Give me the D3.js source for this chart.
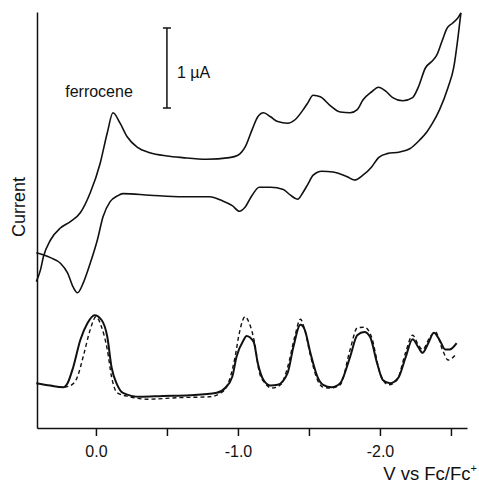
<!DOCTYPE html>
<html>
<head>
<meta charset="utf-8">
<script src="https://cdn.jsdelivr.net/npm/d3@7"></script>
<style>
  body { margin: 0; background: #fff; }
  svg { display: block; font-family: "Liberation Sans", Arial, Helvetica, sans-serif; }
</style>
</head>
<body>
<div id="chart"></div>
<script>
// potential in V vs Fc/Fc+, current in µA (offset arbitrary)
const cvForward = [
  [0.42, 1.83], [0.39, 1.98], [0.37, 2.14], [0.32, 2.35], [0.25, 2.50], [0.18, 2.58],
  [0.11, 2.69], [0.04, 2.94], [-0.03, 3.31], [-0.08, 3.69], [-0.12, 3.94], [-0.17, 3.81],
  [-0.22, 3.64], [-0.29, 3.51], [-0.38, 3.44], [-0.50, 3.40], [-0.61, 3.38], [-0.78, 3.36],
  [-0.94, 3.38], [-1.00, 3.41], [-1.05, 3.51], [-1.10, 3.73], [-1.14, 3.89], [-1.18, 3.94],
  [-1.23, 3.89], [-1.28, 3.83], [-1.35, 3.81], [-1.40, 3.85], [-1.46, 3.98], [-1.49, 4.06],
  [-1.53, 4.16], [-1.58, 4.14], [-1.65, 4.03], [-1.72, 3.95], [-1.79, 3.94], [-1.84, 3.98],
  [-1.88, 4.10], [-1.94, 4.20], [-1.99, 4.26], [-2.04, 4.21], [-2.09, 4.13], [-2.16, 4.09],
  [-2.23, 4.13], [-2.27, 4.26], [-2.32, 4.50], [-2.37, 4.59], [-2.40, 4.66], [-2.44, 4.85],
  [-2.47, 4.99], [-2.51, 5.06], [-2.55, 5.13], [-2.57, 5.19]
];

const cvReverse = [
  [-2.57, 5.19], [-2.55, 4.89], [-2.52, 4.51], [-2.48, 4.26], [-2.42, 3.98], [-2.37, 3.81],
  [-2.33, 3.70], [-2.28, 3.60], [-2.21, 3.49], [-2.14, 3.45], [-2.05, 3.43], [-1.99, 3.38],
  [-1.94, 3.26], [-1.88, 3.16], [-1.82, 3.10], [-1.77, 3.14], [-1.67, 3.20], [-1.59, 3.21],
  [-1.53, 3.16], [-1.49, 3.04], [-1.46, 2.95], [-1.42, 2.86], [-1.37, 2.91], [-1.32, 2.98],
  [-1.23, 3.01], [-1.15, 3.01], [-1.10, 2.91], [-1.05, 2.76], [-1.01, 2.71], [-0.96, 2.78],
  [-0.89, 2.84], [-0.80, 2.89], [-0.61, 2.89], [-0.38, 2.91], [-0.19, 2.93], [-0.15, 2.90],
  [-0.10, 2.83], [-0.05, 2.64], [-0.01, 2.35], [0.04, 2.06], [0.09, 1.81], [0.13, 1.69],
  [0.16, 1.76], [0.20, 1.94], [0.25, 2.06], [0.32, 2.13], [0.42, 2.19]
];

const dpvSolid = [
  [0.42, 0.56], [0.32, 0.53], [0.23, 0.51], [0.20, 0.56], [0.16, 0.76], [0.11, 1.10],
  [0.06, 1.31], [0.01, 1.41], [-0.04, 1.35], [-0.08, 1.14], [-0.11, 0.76], [-0.15, 0.54],
  [-0.19, 0.44], [-0.31, 0.39], [-0.47, 0.40], [-0.66, 0.41], [-0.85, 0.44], [-0.91, 0.50],
  [-0.96, 0.64], [-0.99, 0.89], [-1.04, 1.10], [-1.06, 1.15], [-1.11, 1.08], [-1.14, 0.81],
  [-1.18, 0.60], [-1.23, 0.53], [-1.28, 0.54], [-1.35, 0.69], [-1.39, 1.01], [-1.44, 1.29],
  [-1.47, 1.23], [-1.51, 0.94], [-1.56, 0.64], [-1.60, 0.54], [-1.66, 0.51], [-1.72, 0.56],
  [-1.79, 0.89], [-1.84, 1.16], [-1.89, 1.20], [-1.93, 1.14], [-1.98, 0.81], [-2.02, 0.60],
  [-2.07, 0.56], [-2.13, 0.63], [-2.18, 0.88], [-2.23, 1.11], [-2.27, 1.01], [-2.30, 0.94],
  [-2.34, 1.06], [-2.38, 1.19], [-2.42, 1.10], [-2.46, 0.98], [-2.49, 0.98], [-2.54, 1.06]
];

const dpvDashed = [
  [0.32, 0.53], [0.23, 0.51], [0.18, 0.53], [0.13, 0.64], [0.09, 0.89], [0.04, 1.23],
  [0.00, 1.39], [-0.04, 1.26], [-0.08, 0.98], [-0.11, 0.64], [-0.15, 0.44], [-0.24, 0.39],
  [-0.36, 0.36], [-0.59, 0.38], [-0.80, 0.39], [-0.89, 0.45], [-0.94, 0.60], [-0.98, 0.89],
  [-1.01, 1.19], [-1.05, 1.39], [-1.08, 1.31], [-1.12, 1.04], [-1.15, 0.70], [-1.19, 0.56],
  [-1.24, 0.50], [-1.30, 0.54], [-1.35, 0.76], [-1.40, 1.14], [-1.44, 1.36], [-1.47, 1.23],
  [-1.51, 0.91], [-1.56, 0.60], [-1.60, 0.51], [-1.65, 0.50], [-1.72, 0.54], [-1.79, 0.98],
  [-1.84, 1.25], [-1.89, 1.26], [-1.94, 1.14], [-2.00, 0.69], [-2.06, 0.54], [-2.12, 0.60],
  [-2.18, 0.94], [-2.23, 1.16], [-2.27, 1.04], [-2.30, 0.98], [-2.35, 1.13], [-2.39, 1.20],
  [-2.44, 0.98], [-2.48, 0.85], [-2.53, 0.91]
];

const tickValues = [0, -0.5, -1.0, -1.5, -2.0, -2.5];
const labelledTicks = [0, -1.0, -2.0];

const width = 479;
const height = 485;
const margin = { top: 12, right: 12, bottom: 57, left: 37 };

const svg = d3.select("#chart")
  .append("svg")
  .attr("width", width)
  .attr("height", height);

// x runs from +0.415 V on the left to -2.613 V on the right
const x = d3.scaleLinear()
  .domain([0.415, -2.613])
  .range([margin.left, width - margin.right]);

const y = d3.scaleLinear()
  .domain([0, 5.2])
  .range([height - margin.bottom, margin.top]);

// axes
const xAxis = svg.append("g")
  .attr("transform", `translate(0,${height - margin.bottom})`)
  .call(d3.axisBottom(x)
    .tickValues(tickValues)
    .tickSize(8)
    .tickSizeOuter(0)
    .tickPadding(10)
    .tickFormat((d) => (labelledTicks.includes(d) ? d.toFixed(1) : "")));

xAxis.selectAll("path, line").attr("stroke", "#111").attr("stroke-width", 1.5);
xAxis.selectAll("text")
  .attr("font-size", 16)
  .attr("font-family", "Liberation Sans, Arial, sans-serif")
  .attr("fill", "#111");

const yAxis = svg.append("g")
  .attr("transform", `translate(${margin.left},0)`)
  .call(d3.axisLeft(y).tickValues([]).tickSizeOuter(0));

yAxis.selectAll("path").attr("stroke", "#111").attr("stroke-width", 1.5);

// curves: monotone in x keeps the peaks round without overshoot
const line = d3.line()
  .x((d) => x(d[0]))
  .y((d) => y(d[1]))
  .curve(d3.curveMonotoneX);

const byX = (arr) => arr.slice().sort((a, b) => b[0] - a[0]);

svg.append("path")
  .datum(byX(cvForward))
  .attr("fill", "none")
  .attr("stroke", "#111")
  .attr("stroke-width", 1.6)
  .attr("d", line);

svg.append("path")
  .datum(byX(cvReverse))
  .attr("fill", "none")
  .attr("stroke", "#111")
  .attr("stroke-width", 1.6)
  .attr("d", line);

svg.append("path")
  .datum(byX(dpvDashed))
  .attr("fill", "none")
  .attr("stroke", "#111")
  .attr("stroke-width", 1.4)
  .attr("stroke-dasharray", "4,3")
  .attr("d", line);

svg.append("path")
  .datum(byX(dpvSolid))
  .attr("fill", "none")
  .attr("stroke", "#111")
  .attr("stroke-width", 2)
  .attr("d", line);

// 1 µA scale bar
const barX = x(-0.5);
const bar = svg.append("g").attr("stroke", "#111").attr("stroke-width", 1.5);
bar.append("line").attr("x1", barX).attr("x2", barX).attr("y1", y(4)).attr("y2", y(5));
bar.append("line").attr("x1", barX - 4).attr("x2", barX + 4).attr("y1", y(4)).attr("y2", y(4));
bar.append("line").attr("x1", barX - 4).attr("x2", barX + 4).attr("y1", y(5)).attr("y2", y(5));

svg.append("text")
  .attr("x", barX + 10)
  .attr("y", 78)
  .attr("font-size", 16)
  .attr("fill", "#111")
  .text("1 µA");

svg.append("text")
  .attr("x", 99)
  .attr("y", 97)
  .attr("text-anchor", "middle")
  .attr("font-size", 16)
  .attr("fill", "#111")
  .text("ferrocene");

// axis titles
svg.append("text")
  .attr("transform", "translate(25,207) rotate(-90)")
  .attr("text-anchor", "middle")
  .attr("font-size", 18)
  .attr("fill", "#111")
  .text("Current");

const xTitle = svg.append("text")
  .attr("x", 477)
  .attr("y", 480)
  .attr("text-anchor", "end")
  .attr("font-size", 18.5)
  .attr("fill", "#111");
xTitle.append("tspan").text("V vs Fc/Fc");
xTitle.append("tspan")
  .attr("font-size", 11)
  .attr("dy", -8)
  .text("+");
</script>
</body>
</html>
